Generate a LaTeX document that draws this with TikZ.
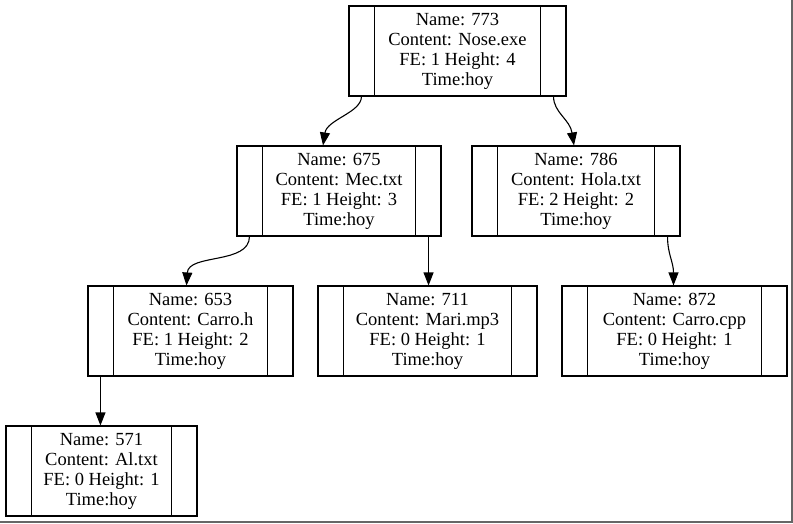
\documentclass[tikz,border=0pt]{standalone}
\usepackage{fontspec}
\setmainfont{Liberation Serif}
\usetikzlibrary{arrows.meta}
\tikzset{
  rec/.style={draw, line width=1.1pt, minimum height=90pt, inner sep=0pt, align=center,
    font=\fontsize{18.5}{20}\selectfont},
  edge/.style={line width=1.1pt, -{Triangle[length=13pt,width=10pt]}},
  frameline/.style={draw=black!60, line width=2pt}
}
\newcommand{\recnode}[5]{%
  \node[rec, minimum width={#3-#2}] (#1) at ({(#2+#3)/2},{#4+45}) {#5};
  \draw[line width=1.1pt] ([xshift=26pt]#1.north west) -- ([xshift=26pt]#1.south west);
  \draw[line width=1.1pt] ([xshift=-26pt]#1.north east) -- ([xshift=-26pt]#1.south east);
  \coordinate (#1-l) at ([xshift=13pt]#1.south west);
  \coordinate (#1-r) at ([xshift=-13pt]#1.south east);
}
\begin{document}
\begin{tikzpicture}[x=1pt,y=-1pt]
\useasboundingbox (0,0) rectangle (793,523);
\fill[white] (0,0) rectangle (793,523);
\draw[frameline] (792,0) -- (792,521.5) -- (0,521.5);
\recnode{n773}{349}{566}{6}{Name: 773\\Content: Nose.exe\\FE: 1 Height: 4\\Time:hoy}
\recnode{n675}{237}{441}{146}{Name: 675\\Content: Mec.txt\\FE: 1 Height: 3\\Time:hoy}
\recnode{n786}{472}{680}{146}{Name: 786\\Content: Hola.txt\\FE: 2 Height: 2\\Time:hoy}
\recnode{n653}{88}{293}{286}{Name: 653\\Content: Carro.h\\FE: 1 Height: 2\\Time:hoy}
\recnode{n711}{318}{537}{286}{Name: 711\\Content: Mari.mp3\\FE: 0 Height: 1\\Time:hoy}
\recnode{n872}{562}{787}{286}{Name: 872\\Content: Carro.cpp\\FE: 0 Height: 1\\Time:hoy}
\recnode{n571}{6}{197}{426}{Name: 571\\Content: Al.txt\\FE: 0 Height: 1\\Time:hoy}
\draw[edge] (n773-l) .. controls +(0,16) and +(4,-26) .. ([xshift=-16pt]n675.north);
\draw[edge] (n773-r) .. controls +(0,16) and +(-4,-26) .. ([xshift=-2pt]n786.north);
\draw[edge] (n675-l) .. controls +(0,28) and +(2,-32) .. ([xshift=-4pt]n653.north);
\draw[edge] (n675-r) -- (n675-r |- n711.north);
\draw[edge] (n786-r) .. controls +(0,18) and +(0,-24) .. ([xshift=-1pt]n872.north);
\draw[edge] (n653-l) -- (n653-l |- n571.north);
\end{tikzpicture}
\end{document}
